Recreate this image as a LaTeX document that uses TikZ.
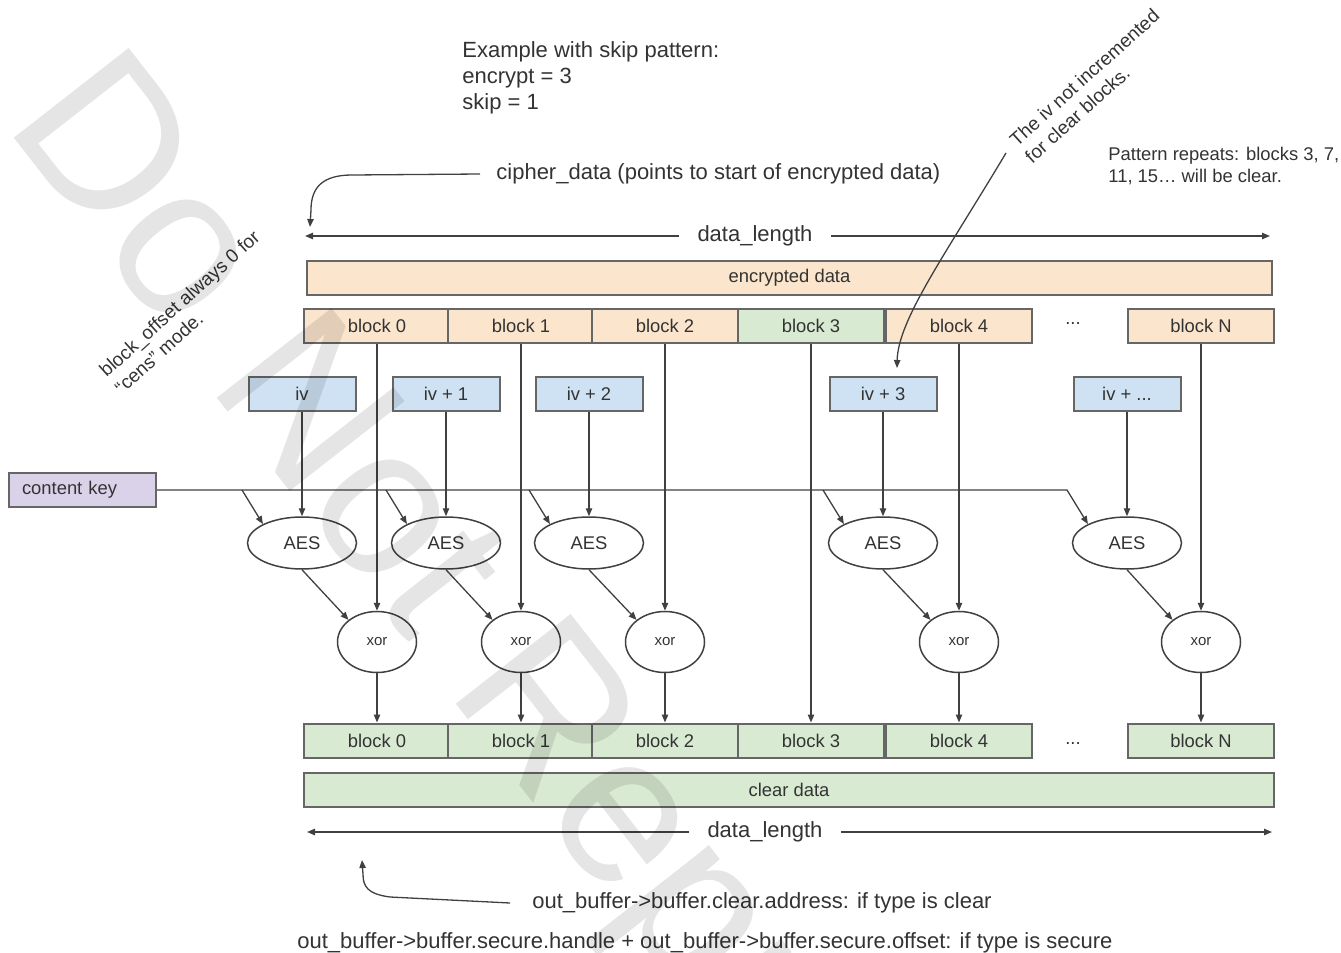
\documentclass[tikz,border=0pt]{standalone}
\usepackage{fontspec}
\setmainfont{Liberation Sans}
\usetikzlibrary{shapes.geometric,arrows.meta}

\definecolor{peach}{HTML}{FCE5CD}
\definecolor{mint}{HTML}{D9EAD3}
\definecolor{skyblue}{HTML}{CFE2F3}
\definecolor{lilac}{HTML}{D9D2E9}
\definecolor{boxgray}{HTML}{666666}
\definecolor{linegray}{HTML}{404040}
\definecolor{txtgray}{HTML}{333333}

\tikzset{
  big/.style={font=\fontsize{11}{13}\selectfont, text=txtgray},
  lbl/.style={font=\fontsize{9.2}{11}\selectfont, text=txtgray},
  note/.style={font=\fontsize{9.5}{11.5}\selectfont, text=txtgray},
  blk/.style={lbl, draw=boxgray, line width=1pt, minimum width=73pt,
    minimum height=17pt, inner sep=0pt},
  encblk/.style={blk, fill=peach},
  clrblk/.style={blk, fill=mint},
  ivbox/.style={blk, fill=skyblue, minimum width=53.5pt},
  aes/.style={lbl, ellipse, draw=linegray, line width=0.75pt,
    minimum width=54.5pt, minimum height=26pt, inner sep=0pt},
  xorop/.style={ellipse, draw=linegray, line width=0.75pt, minimum width=39.5pt,
    minimum height=30.5pt, inner sep=0pt, font=\fontsize{7.5}{8}\selectfont, text=txtgray},
  conn/.style={draw=linegray, line width=0.65pt, -{Triangle[length=4pt,width=3.2pt]}},
}

\begin{document}
\begin{tikzpicture}[x=0.5pt, y=-0.5pt] % pixels, origin top left
   \useasboundingbox (0,0) rectangle (1341,953);
   \clip (0,0) rectangle (1341,953);

   \node[big, anchor=north west, align=left, inner sep=0pt] (example) at (462,41)
      {Example with skip pattern:\\encrypt = 3\\skip = 1};
   \node[big, anchor=west, inner xsep=8pt, inner ysep=0pt] (cipher) at (480,174)
      {cipher\_data (points to start of encrypted data)};
   \node[lbl, anchor=north west, align=left, inner sep=0pt] (pattern) at (1108,147)
      {Pattern repeats: blocks 3, 7,\\11, 15… will be clear.};
   \node[note, rotate=42, align=left] (offsetnote) at (187,312)
      {block\_offset always 0 for\\“cens” mode.};
   \node[note, rotate=42, align=left] (ivnote) at (1092,86)
      {The iv not incremented\\for clear blocks.};

   \node[big, inner xsep=9pt] (lentop) at (755,236) {data\_length};
   \coordinate (lentopL) at (305,236);
   \coordinate (lentopR) at (1270,236);

   \node[encblk, minimum width=482.5pt] (enc) at (789.5,278) {encrypted data};

   \node[encblk] (e0) at (377,326) {block 0};
   \node[encblk] (e1) at (521,326) {block 1};
   \node[encblk] (e2) at (665,326) {block 2};
   \node[clrblk] (e3) at (811,326) {block 3};
   \node[encblk] (e4) at (959,326) {block 4};
   \node[lbl] (dotsT) at (1073,324) {...};
   \node[encblk] (eN) at (1201,326) {block N};

   \node[ivbox] (iv0) at (302,394) {iv};
   \node[ivbox] (iv1) at (446,394) {iv + 1};
   \node[ivbox] (iv2) at (589,394) {iv + 2};
   \node[ivbox] (iv3) at (883,394) {iv + 3};
   \node[ivbox] (ivN) at (1127,394) {iv + ...};

   \node[blk, fill=lilac, minimum width=73.5pt, text width=60.5pt, inner xsep=6.5pt,
      align=left] (key) at (82.5,490) {content key};

   \node[aes] (aes0) at (302,543) {AES};
   \node[aes] (aes1) at (446,543) {AES};
   \node[aes] (aes2) at (589,543) {AES};
   \node[aes] (aes3) at (883,543) {AES};
   \node[aes] (aesN) at (1127,543) {AES};

   \node[xorop] (xor0) at (377,642) {xor};
   \node[xorop] (xor1) at (521,642) {xor};
   \node[xorop] (xor2) at (665,642) {xor};
   \node[xorop] (xor4) at (959,642) {xor};
   \node[xorop] (xorN) at (1201,642) {xor};

   \node[clrblk] (c0) at (377,740.5) {block 0};
   \node[clrblk] (c1) at (521,740.5) {block 1};
   \node[clrblk] (c2) at (665,740.5) {block 2};
   \node[clrblk] (c3) at (811,740.5) {block 3};
   \node[clrblk] (c4) at (959,740.5) {block 4};
   \node[lbl] (dotsB) at (1073,744) {...};
   \node[clrblk] (cN) at (1201,740.5) {block N};

   \node[clrblk, minimum width=485pt] (clr) at (789,789.5) {clear data};

   \node[big, inner xsep=9pt] (lenbot) at (765,832) {data\_length};
   \coordinate (lenbotL) at (307,832);
   \coordinate (lenbotR) at (1272,832);

   \node[big, anchor=west, inner xsep=11pt, inner ysep=0pt] (outclear) at (510,903)
      {out\_buffer->buffer.clear.address: if type is clear};
   \node[big, anchor=west, inner sep=0pt] (outsecure) at (297,943)
      {out\_buffer->buffer.secure.handle + out\_buffer->buffer.secure.offset: if type is secure};

   % lengths and pointers
   \draw[conn] (lentop.west) -- (lentopL);
   \draw[conn] (lentop.east) -- (lentopR);
   \draw[conn] (lenbot.west) -- (lenbotL);
   \draw[conn] (lenbot.east) -- (lenbotR);
   \coordinate (ciphertip) at (310,227);
   \draw[conn] (cipher.west) -- (352,175) .. controls (322,175) and (311,188) .. (311,210) -- (ciphertip);
   \coordinate (outtip) at (362,860);
   \draw[conn] (outclear.west) -- (390,897) .. controls (367,894) and (363,886) .. (363,874) -- (outtip);
   \coordinate (ivfrom) at (1006,153);
   \coordinate (ivto) at (897,368);
   \draw[conn] (ivfrom) .. controls (945,255) and (898,320) .. (ivto);

   % key
   \coordinate (k0) at (242,490);
   \coordinate (k1) at (386,490);
   \coordinate (k2) at (529,490);
   \coordinate (k3) at (823,490);
   \coordinate (k4) at (1067,490);
   \draw[conn] (key.east) -- (k4) -- (aesN.north west);
   \draw[conn] (k0) -- (aes0.north west);
   \draw[conn] (k1) -- (aes1.north west);
   \draw[conn] (k2) -- (aes2.north west);
   \draw[conn] (k3) -- (aes3.north west);

   \draw[conn] (iv0.south) -- (aes0.north);
   \draw[conn] (iv1.south) -- (aes1.north);
   \draw[conn] (iv2.south) -- (aes2.north);
   \draw[conn] (iv3.south) -- (aes3.north);
   \draw[conn] (ivN.south) -- (aesN.north);

   \draw[conn] (aes0.south) -- (xor0.north west);
   \draw[conn] (aes1.south) -- (xor1.north west);
   \draw[conn] (aes2.south) -- (xor2.north west);
   \draw[conn] (aes3.south) -- (xor4.north west);
   \draw[conn] (aesN.south) -- (xorN.north west);

   \draw[conn] (e0.south) -- (xor0.north);
   \draw[conn] (e1.south) -- (xor1.north);
   \draw[conn] (e2.south) -- (xor2.north);
   \draw[conn] (e3.south) -- (c3.north);
   \draw[conn] (e4.south) -- (xor4.north);
   \draw[conn] (eN.south) -- (xorN.north);

   \draw[conn] (xor0.south) -- (c0.north);
   \draw[conn] (xor1.south) -- (c1.north);
   \draw[conn] (xor2.south) -- (c2.north);
   \draw[conn] (xor4.south) -- (c4.north);
   \draw[conn] (xorN.south) -- (cN.north);

   % watermark
   \node[anchor=base west, rotate=-52, inner sep=0pt, text=black, text opacity=0.1,
      font=\fontsize{106}{106}\selectfont] (mark) at (3,124) {Do Not Reproduce};
\end{tikzpicture}
\end{document}
